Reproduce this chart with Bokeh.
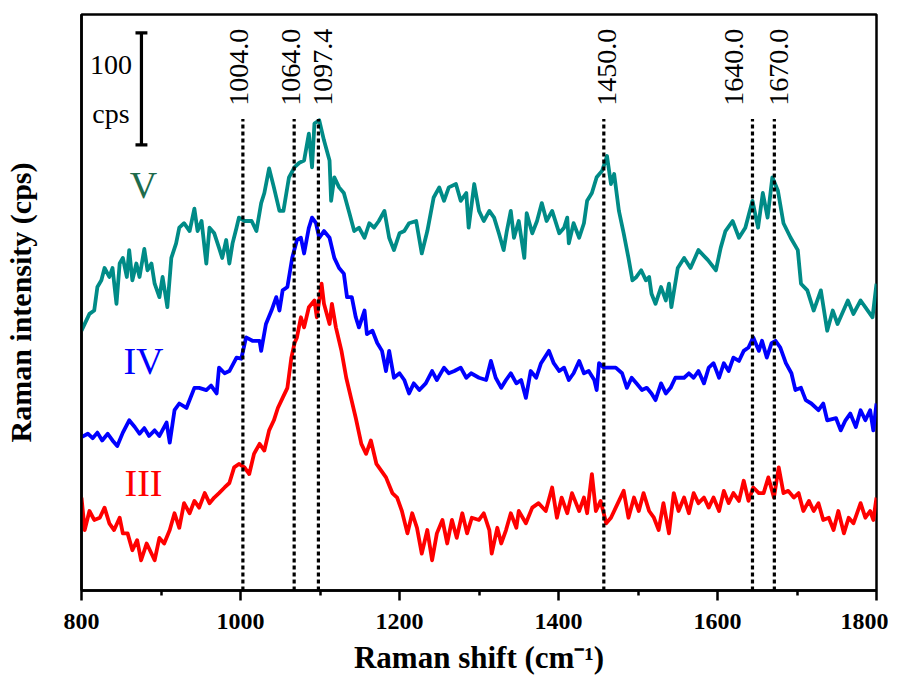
import math
from bokeh.plotting import figure
from bokeh.models import FixedTicker, Range1d, ColumnDataSource
from bokeh.core.properties import value
from bokeh.embed import file_html
from bokeh.resources import INLINE

# ---------------- data (Raman shift in cm-1, intensity in cps, stacked) -------------
V_SHIFT = [800,810,816,820,825,829,835,839,844,848,
           852,857,860,864,869,873,879,883,888,892,
           898,902,908,913,919,923,929,936,942,946,
           951,957,961,967,973,977,982,986,990,995,
           998,1005,1014,1020,1026,1030,1036,1042,1049,1054,
           1061,1068,1074,1080,1086,1090,1093,1099,1105,1112,
           1114,1118,1124,1130,1137,1143,1149,1156,1162,1168,
           1174,1181,1187,1193,1200,1206,1212,1221,1228,1235,
           1243,1250,1256,1262,1271,1277,1284,1287,1294,1300,
           1306,1313,1319,1325,1331,1335,1340,1344,1350,1357,
           1360,1367,1373,1379,1385,1392,1401,1407,1411,1413,
           1419,1426,1432,1436,1442,1448,1455,1461,1466,1470,
           1476,1482,1488,1493,1498,1504,1510,1514,1517,1522,
           1529,1535,1539,1542,1550,1558,1566,1576,1588,1598,
           1604,1610,1619,1627,1635,1644,1651,1657,1663,1669,
           1676,1683,1692,1701,1705,1713,1721,1730,1738,1745,
           1751,1764,1771,1780,1789,1795,1800]
V_INT = [232,247,250,271,277,288,280,288,256,292,
         297,280,304,277,292,280,305,286,292,274,
         262,280,253,297,310,324,328,321,341,321,
         330,292,324,319,306,297,313,292,310,324,
         333,330,330,321,346,355,377,360,339,339,
         369,378,382,384,408,378,417,420,402,384,
         348,369,360,355,337,321,324,315,328,324,
         330,339,315,304,319,321,328,330,301,321,
         351,360,348,360,363,348,355,324,363,339,
         330,339,333,319,304,321,339,315,330,297,
         337,319,330,346,330,339,319,324,333,310,
         328,315,328,348,355,369,375,388,363,372,
         339,319,297,277,280,286,277,280,265,256,
         271,259,274,253,288,297,288,304,295,286,
         306,321,330,315,324,348,324,355,333,369,
         357,328,315,304,274,268,250,268,232,250,
         238,259,247,259,250,244,274]

IV_SHIFT = [800,808,814,820,826,833,839,845,852,860,
            867,873,879,885,892,898,907,911,917,923,
            932,942,948,957,963,970,973,980,986,995,
            1001,1007,1015,1024,1026,1032,1039,1045,1049,1053,
            1059,1065,1071,1076,1080,1086,1090,1095,1099,1105,
            1112,1118,1124,1130,1134,1140,1145,1149,1156,1159,
            1166,1172,1178,1183,1187,1193,1200,1206,1212,1218,
            1225,1233,1241,1247,1256,1262,1269,1277,1284,1290,
            1300,1309,1315,1321,1328,1334,1340,1347,1353,1359,
            1365,1372,1378,1388,1394,1401,1407,1413,1419,1426,
            1432,1438,1445,1448,1451,1457,1463,1472,1480,1486,
            1492,1498,1505,1511,1517,1522,1529,1535,1541,1547,
            1558,1564,1570,1576,1583,1589,1595,1602,1608,1614,
            1620,1627,1633,1639,1645,1652,1656,1662,1668,1673,
            1679,1686,1693,1698,1705,1711,1718,1727,1733,1738,
            1749,1755,1761,1767,1774,1780,1786,1792,1796,1800]
IV_INT = [137,140,136,141,134,140,134,129,141,152,
          146,140,145,138,143,138,150,132,161,167,
          163,181,181,179,183,176,199,194,196,208,
          207,226,223,223,214,238,250,262,250,268,
          271,297,313,315,301,324,333,328,315,321,
          315,297,288,283,262,262,244,235,250,229,
          232,221,214,196,214,190,194,188,176,185,
          179,185,196,188,199,194,196,199,190,194,
          190,188,205,190,181,188,194,185,188,172,
          196,190,203,214,203,196,199,188,194,205,
          194,196,188,179,203,199,199,199,194,181,
          190,185,179,181,176,170,185,176,181,190,
          190,194,190,196,185,199,203,190,203,196,
          208,205,214,217,226,214,223,208,221,223,
          217,203,194,179,181,170,167,161,167,152,
          154,143,152,158,146,161,152,161,143,167]

III_SHIFT = [800,804,810,816,823,829,835,841,848,852,
             858,864,870,875,882,888,892,898,904,911,
             917,923,929,936,942,948,955,961,967,973,
             980,986,992,998,1005,1011,1017,1024,1030,1036,
             1042,1047,1053,1059,1064,1068,1071,1076,1080,1086,
             1093,1096,1102,1105,1112,1115,1120,1127,1133,1139,
             1145,1152,1158,1164,1171,1177,1183,1191,1197,1203,
             1210,1216,1222,1228,1235,1241,1247,1254,1260,1266,
             1272,1279,1285,1291,1300,1306,1313,1316,1323,1328,
             1334,1340,1347,1350,1359,1367,1375,1384,1392,1398,
             1404,1411,1417,1426,1432,1436,1442,1447,1453,1460,
             1466,1472,1482,1488,1495,1501,1507,1514,1520,1526,
             1532,1539,1545,1551,1558,1564,1570,1576,1583,1589,
             1595,1602,1608,1614,1620,1627,1633,1639,1645,1652,
             1658,1664,1671,1677,1683,1689,1696,1702,1708,1715,
             1721,1727,1733,1740,1746,1752,1759,1765,1771,1780,
             1786,1792,1796,1800]
III_INT = [83,54,71,63,65,74,60,54,65,51,
           51,36,45,27,42,33,27,47,42,54,
           69,56,78,69,80,74,87,78,83,87,
           92,96,110,113,110,104,122,131,125,143,
           152,163,172,181,208,221,226,244,235,253,
           259,244,274,256,238,256,235,214,190,172,
           154,131,122,134,113,107,101,87,83,71,
           51,69,56,33,54,27,51,63,42,63,
           47,69,51,65,63,69,54,33,56,42,
           54,69,56,71,60,74,78,71,92,65,
           83,69,87,71,83,69,104,71,80,60,
           65,74,89,65,83,71,87,71,65,54,
           78,51,87,71,83,69,87,78,83,74,
           83,71,89,78,87,80,98,80,92,87,
           87,101,83,110,87,89,83,87,71,80,
           71,78,63,65,54,71,51,65,60,78,
           65,71,63,83]

PEAK_LINES = [1003, 1067.5, 1098, 1457, 1644, 1671.5]
PEAK_LABELS = ["1004.0", "1064.0", "1097.4", "1450.0", "1640.0", "1670.0"]
X_TICKS = [800, 1000, 1200, 1400, 1600, 1800]
X_MINOR = [900, 1100, 1300, 1500, 1700]
SERIES_NAMES = ["V", "IV", "III"]
SCALE_BAR_CPS = 100

# ---------------- styling ----------------
SERIF = "Liberation Serif"
COLORS = ["#008b87", "#0000ff", "#ff0000"]
NAME_COLORS = ["#1e6b4c", "#0000ff", "#ff0000"]
LABEL_DX = [-4, -3, 5, 3, -18, 5]   # pixel offsets of peak labels

p = figure(width=888, height=679, output_backend="svg", toolbar_location=None,
           x_range=Range1d(800, 1800), y_range=Range1d(0, 514.4),
           min_border_left=80, min_border_right=12, min_border_top=14, min_border_bottom=89)
p.background_fill_color = "white"
p.border_fill_color = "white"
p.xgrid.visible = False
p.ygrid.visible = False
p.outline_line_color = "black"
p.outline_line_width = 2.5
p.outline_line_alpha = 1.0

# spectra
for xs, ys, c in [(V_SHIFT, V_INT, COLORS[0]), (IV_SHIFT, IV_INT, COLORS[1]), (III_SHIFT, III_INT, COLORS[2])]:
    p.line(xs, ys, line_color=c, line_width=3.8, line_join="round")

# dashed peak markers
p.segment(x0=PEAK_LINES, y0=[0] * len(PEAK_LINES), x1=PEAK_LINES, y1=[421] * len(PEAK_LINES),
          line_color="black", line_width=3.2, line_dash="4 3")
src = ColumnDataSource(dict(x=PEAK_LINES, y=[433] * len(PEAK_LINES), t=PEAK_LABELS, dx=LABEL_DX))
p.text(x="x", y="y", text="t", x_offset="dx", source=src, angle=math.pi / 2,
       text_align="left", text_baseline="middle",
       text_font=value(SERIF), text_font_size="28px", text_color="black")

# scale bar (100 cps)
sb_x = 875.4
sb_y0, sb_y1 = 398, 398 + SCALE_BAR_CPS
p.segment(x0=[sb_x, sb_x - 7.5, sb_x - 7.5], y0=[sb_y0, sb_y0, sb_y1],
          x1=[sb_x, sb_x + 7.5, sb_x + 7.5], y1=[sb_y1, sb_y0, sb_y1],
          line_color="black", line_width=3.2)
p.text(x=[837, 837], y=[469, 426], text=[str(SCALE_BAR_CPS), "cps"],
       text_align="center", text_baseline="middle",
       text_font=value(SERIF), text_font_size="28px", text_color="black")

# series names
p.text(x=[878, 878, 878], y=[362, 205, 96], text=SERIES_NAMES,
       text_color=NAME_COLORS, text_align="center", text_baseline="middle",
       text_font=value(SERIF), text_font_size="38px")

# axes
xa = p.xaxis[0]
xa.ticker = FixedTicker(ticks=X_TICKS, minor_ticks=X_MINOR)
xa.axis_line_width = 2.5
xa.major_tick_line_width = 2.5
xa.minor_tick_line_width = 2.5
xa.minor_tick_line_color = "black"
xa.major_tick_out = 10
xa.major_tick_in = 0
xa.minor_tick_out = 5
xa.minor_tick_in = 0
xa.major_label_text_font = SERIF
xa.major_label_text_font_style = "bold"
xa.major_label_text_font_size = "24px"
xa.major_label_text_color = "black"
xa.major_label_standoff = 13
xa.axis_label = "Raman shift (cm\u207b\u00b9)"
xa.axis_label_text_font = SERIF
xa.axis_label_text_font_style = "bold"
xa.axis_label_text_font_size = "31px"
xa.axis_label_text_color = "black"
xa.axis_label_standoff = 8

ya = p.yaxis[0]
ya.ticker = FixedTicker(ticks=[])
ya.axis_line_width = 2.5
ya.major_tick_line_color = None
ya.minor_tick_line_color = None
ya.major_label_text_font_size = "0px"
ya.axis_label = "Raman intensity (cps)"
ya.axis_label_text_font = SERIF
ya.axis_label_text_font_style = "bold"
ya.axis_label_text_font_size = "30px"
ya.axis_label_text_color = "black"
ya.axis_label_standoff = 45

open("out.html", "w").write(file_html(p, INLINE))
